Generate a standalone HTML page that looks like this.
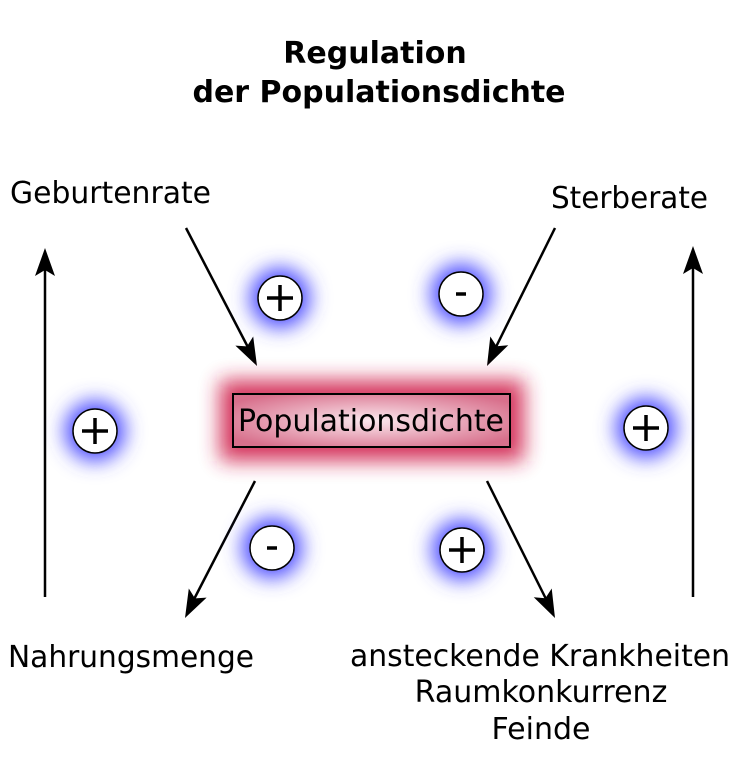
<!DOCTYPE html>
<html><head><meta charset="utf-8"><style>html,body{margin:0;padding:0;background:#fff}svg{display:block}</style></head>
<body>
<svg width="750" height="771" viewBox="0 0 750 771" xmlns="http://www.w3.org/2000/svg" font-family="DejaVu Sans, Liberation Sans, sans-serif">
<defs>
<filter id="bg" x="-100%" y="-100%" width="300%" height="300%"><feGaussianBlur stdDeviation="10"/></filter>
<filter id="rg" x="-30%" y="-100%" width="160%" height="300%"><feGaussianBlur stdDeviation="10"/></filter>
<radialGradient id="pg" cx="0.5" cy="0.5" r="0.6"><stop offset="0" stop-color="#fbe8ee"/><stop offset="1" stop-color="#d8708c"/></radialGradient>
</defs>
<text x="375" y="63" font-size="30" font-weight="bold" text-anchor="middle">Regulation</text>
<text x="379" y="102" font-size="30" font-weight="bold" text-anchor="middle">der Populationsdichte</text>

<text x="10" y="203" font-size="30" textLength="201" lengthAdjust="spacingAndGlyphs">Geburtenrate</text>
<text x="551" y="208" font-size="30" textLength="157" lengthAdjust="spacingAndGlyphs">Sterberate</text>
<text x="8" y="667" font-size="30" textLength="246" lengthAdjust="spacingAndGlyphs">Nahrungsmenge</text>
<text x="540" y="666" font-size="30" text-anchor="middle" textLength="380" lengthAdjust="spacingAndGlyphs">ansteckende Krankheiten</text>
<text x="541" y="702" font-size="30" text-anchor="middle">Raumkonkurrenz</text>
<text x="541" y="739" font-size="30" text-anchor="middle">Feinde</text>

<g stroke="#000" stroke-width="2.5" fill="none">
<line x1="45" y1="597" x2="45" y2="265"/>
<line x1="693" y1="597" x2="693" y2="265"/>
<line x1="186" y1="228" x2="252" y2="355"/>
<line x1="555" y1="228" x2="492" y2="355"/>
<line x1="255" y1="481" x2="190" y2="607"/>
<line x1="487" y1="481" x2="550" y2="607"/>
</g>
<g fill="#000">
<path d="M45,248 L35,276 L45,270 L55,276 Z"/>
<path d="M693,246 L683,274 L693,268 L703,274 Z"/>
<g transform="translate(257,366) rotate(-27)"><path d="M0,0 L-10,-28 L0,-22 L10,-28 Z"/></g>
<g transform="translate(487,366) rotate(26)"><path d="M0,0 L-10,-28 L0,-22 L10,-28 Z"/></g>
<g transform="translate(185,618) rotate(27)"><path d="M0,0 L-10,-28 L0,-22 L10,-28 Z"/></g>
<g transform="translate(555,618) rotate(-26)"><path d="M0,0 L-10,-28 L0,-22 L10,-28 Z"/></g>
</g>

<rect x="220" y="380" width="304" height="81" fill="#d0204e" filter="url(#rg)" opacity="0.9"/>
<rect x="233" y="394" width="277" height="53" fill="url(#pg)" stroke="#000" stroke-width="2"/>
<text x="371" y="431" font-size="30" text-anchor="middle" textLength="266" lengthAdjust="spacingAndGlyphs">Populationsdichte</text>

<g>
<g transform="translate(280,298)"><circle r="30" fill="#4a4aff" filter="url(#bg)"/><circle r="22" fill="#fff" stroke="#000" stroke-width="1.5"/><path d="M-13,0H13M0,-13V13" stroke="#000" stroke-width="3.5"/></g>
<g transform="translate(461,294)"><circle r="30" fill="#4a4aff" filter="url(#bg)"/><circle r="22" fill="#fff" stroke="#000" stroke-width="1.5"/><path d="M-5,0H5" stroke="#000" stroke-width="3.5"/></g>
<g transform="translate(95,431)"><circle r="30" fill="#4a4aff" filter="url(#bg)"/><circle r="22" fill="#fff" stroke="#000" stroke-width="1.5"/><path d="M-13,0H13M0,-13V13" stroke="#000" stroke-width="3.5"/></g>
<g transform="translate(646,428)"><circle r="30" fill="#4a4aff" filter="url(#bg)"/><circle r="22" fill="#fff" stroke="#000" stroke-width="1.5"/><path d="M-13,0H13M0,-13V13" stroke="#000" stroke-width="3.5"/></g>
<g transform="translate(272,548)"><circle r="30" fill="#4a4aff" filter="url(#bg)"/><circle r="22" fill="#fff" stroke="#000" stroke-width="1.5"/><path d="M-5,0H5" stroke="#000" stroke-width="3.5"/></g>
<g transform="translate(462,550)"><circle r="30" fill="#4a4aff" filter="url(#bg)"/><circle r="22" fill="#fff" stroke="#000" stroke-width="1.5"/><path d="M-13,0H13M0,-13V13" stroke="#000" stroke-width="3.5"/></g>
</g>
</svg>
</body></html>
